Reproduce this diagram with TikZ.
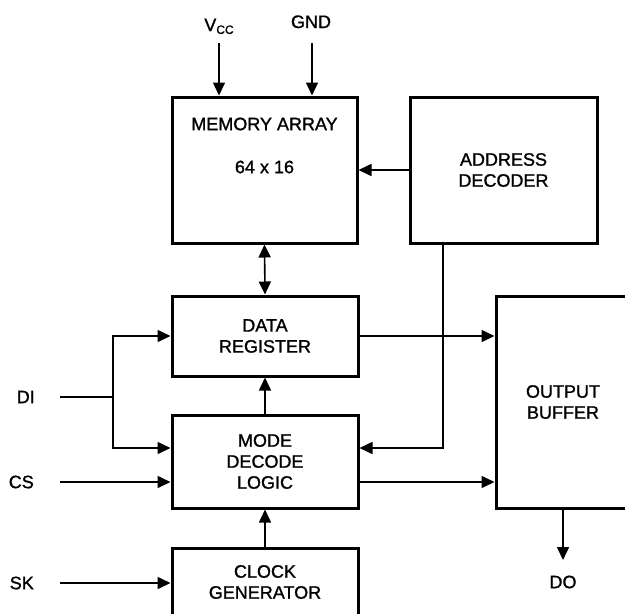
\documentclass[tikz,border=0pt]{standalone}
\usepackage{fontspec}
\setmainfont{Liberation Sans}[FakeBold=1.2]
\usetikzlibrary{arrows.meta}
\begin{document}
\begin{tikzpicture}[x=1pt,y=-1pt,
  blk/.style={draw, line width=3pt, minimum width=186pt, inner sep=0pt, align=center, font=\fontsize{18}{21}\selectfont},
  txt/.style={font=\fontsize{18}{21}\selectfont, inner sep=0pt},
  conn/.style={line width=1.6pt, -{Triangle[length=13pt,width=12pt]}},
  bidir/.style={line width=1.6pt, {Triangle[length=13pt,width=12pt]}-{Triangle[length=13pt,width=12pt]}},
  wire/.style={line width=1.6pt}]
\useasboundingbox (0,0) rectangle (625,614);
\clip (0,0) rectangle (625,614);
% blocks
\node[blk, minimum width=185pt, minimum height=146pt] (mem) at (264.5,170) {};
\node[txt] (memt) at (264.5,124) {MEMORY ARRAY};
\node[txt] (memn) at (264.5,167) {64 x 16};
\node[blk, minimum width=187pt, minimum height=146pt] (adr) at (503.5,170) {ADDRESS\\DECODER};
\node[blk, minimum height=80pt] (dreg) at (265,336) {DATA\\REGISTER};
\node[blk, minimum height=93pt] (mode) at (265,461.5) {MODE\\DECODE\\LOGIC};
\node[blk, minimum height=68pt] (clk) at (265,582) {CLOCK\\GENERATOR};
\node[blk, minimum width=134pt, minimum height=212pt] (obuf) at (563,402) {OUTPUT\\BUFFER};
% labels
\node[txt, anchor=base] (vcc) at (219,31) {V\raisebox{-0.3ex}{\fontsize{12}{12}\selectfont CC}};
\node[txt, anchor=base] (gnd) at (311,28) {GND};
\node[txt, anchor=east] (di) at (35,397) {DI};
\node[txt, anchor=east] (cs) at (34,482) {CS};
\node[txt, anchor=east] (sk) at (34,583) {SK};
\node[txt] (do) at (563,582) {DO};
% coordinates
\coordinate (vcctop) at (219,43);
\coordinate (gndtop) at (312,43);
\coordinate (dis) at (60,397);
\coordinate (dij) at (113,397);
\coordinate (dim) at (113,448);
\coordinate (css) at (60,482);
\coordinate (sks) at (60,583);
\coordinate (tapx) at (443,448);
\coordinate (dotip) at (563,560);
% connectors
\draw[conn] (vcctop) -- (vcctop |- mem.north);
\draw[conn] (gndtop) -- (gndtop |- mem.north);
\draw[conn] (adr.west) -- (mem.east);
\draw[bidir] (mem.south) -- (dreg.north);
\draw[conn] (mode.north) -- (dreg.south);
\draw[conn] (clk.north) -- (mode.south);
\draw[wire] (dis) -- (dij);
\draw[conn] (dij) |- (dreg.west);
\draw[conn] (dij) -- (dim) -- (dim -| mode.west);
\draw[conn] (css) -- (css -| mode.west);
\draw[conn] (sks) -- (sks -| clk.west);
\draw[conn] (tapx |- adr.south) -- (tapx) -- (tapx -| mode.east);
\draw[conn] (dreg.east) -- (dreg.east -| obuf.west);
\draw[conn] (mode.east |- css) -- (obuf.west |- css);
\draw[conn] (obuf.south) -- (dotip);
\end{tikzpicture}
\end{document}
